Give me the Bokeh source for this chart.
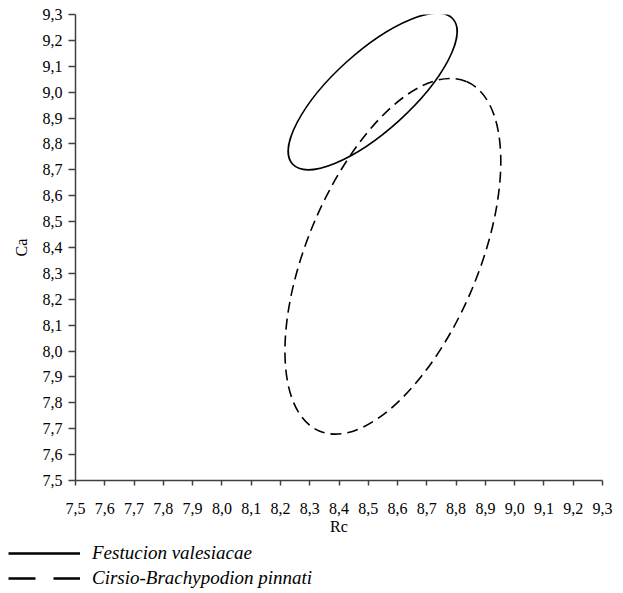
from bokeh.plotting import figure
from bokeh.layouts import column
from bokeh.models import Range1d, FixedTicker, Legend, LegendItem, ColumnDataSource
from bokeh.embed import file_html
from bokeh.resources import INLINE

# Data: ellipse parameters (centre, full width/height in data units, rotation in radians)
groups = ["Festucion valesiacae", "Cirsio-Brachypodion pinnati"]
center_rc = [8.515, 8.584]
center_ca = [9.003, 8.366]
ell_width = [0.739, 1.295]
ell_height = [0.304, 0.662]
ell_angle = [0.7365, 1.172]

tick_values = [7.5, 7.6, 7.7, 7.8, 7.9, 8.0, 8.1, 8.2, 8.3, 8.4, 8.5, 8.6, 8.7, 8.8, 8.9, 9.0, 9.1, 9.2, 9.3]
tick_labels = ["7,5", "7,6", "7,7", "7,8", "7,9", "8,0", "8,1", "8,2", "8,3", "8,4", "8,5",
               "8,6", "8,7", "8,8", "8,9", "9,0", "9,1", "9,2", "9,3"]

FONT = "'Liberation Serif', serif"
NAN = float("nan")

p = figure(width=623, height=537, output_backend="svg", toolbar_location=None,
           x_range=Range1d(7.5, 9.3), y_range=Range1d(7.5, 9.3),
           min_border_left=75, min_border_right=21, min_border_top=14, min_border_bottom=55)
p.outline_line_color = None
p.xgrid.visible = False
p.ygrid.visible = False

overrides = {v: l for v, l in zip(tick_values, tick_labels)}
for ax in (p.xaxis[0], p.yaxis[0]):
    ax.ticker = FixedTicker(ticks=tick_values)
    ax.major_label_overrides = overrides
    ax.minor_tick_line_color = None
    ax.axis_line_color = "#404040"
    ax.axis_line_width = 1.5
    ax.major_tick_line_color = "#404040"
    ax.major_tick_line_width = 1.5
    ax.major_tick_in = 0
    ax.major_label_text_font = FONT
    ax.major_label_text_font_size = "16px"
    ax.major_label_text_color = "black"
    ax.axis_label_text_font = FONT
    ax.axis_label_text_font_size = "16px"
    ax.axis_label_text_font_style = "normal"
    ax.axis_label_text_color = "black"

p.xaxis.axis_label = "Rc"
p.yaxis.axis_label = "Ca"
p.xaxis.major_tick_out = 5
p.yaxis.major_tick_out = 7
p.xaxis.major_label_standoff = 17
p.yaxis.major_label_standoff = 6
p.xaxis.axis_label_standoff = 1
p.yaxis.axis_label_standoff = 10

src_s = ColumnDataSource(dict(x=[center_rc[0]], y=[center_ca[0]], w=[ell_width[0]],
                              h=[ell_height[0]], a=[ell_angle[0]]))
src_d = ColumnDataSource(dict(x=[center_rc[1]], y=[center_ca[1]], w=[ell_width[1]],
                              h=[ell_height[1]], a=[ell_angle[1]]))
p.ellipse(x="x", y="y", width="w", height="h", angle="a", source=src_s,
          fill_color=None, line_color="black", line_width=1.6)
p.ellipse(x="x", y="y", width="w", height="h", angle="a", source=src_d,
          fill_color=None, line_color="black", line_width=1.6, line_dash="11 6")

# separate strip holding the legend below the chart
lg = figure(width=623, height=56, output_backend="svg", toolbar_location=None,
            x_range=Range1d(0, 1), y_range=Range1d(0, 1),
            x_axis_type=None, y_axis_type=None,
            min_border_left=0, min_border_right=0, min_border_top=0, min_border_bottom=0)
lg.frame_align = False
lg.outline_line_color = None
lg.xgrid.visible = False
lg.ygrid.visible = False
leg_s = lg.line(x=[NAN], y=[NAN], line_color="black", line_width=2.5)
leg_d = lg.line(x=[NAN], y=[NAN], line_color="black", line_width=2.5, line_dash="27 18")

legend = Legend(items=[LegendItem(label=groups[0], renderers=[leg_s]),
                       LegendItem(label=groups[1], renderers=[leg_d])],
                location=(8, 4), padding=0, spacing=3, margin=0,
                glyph_width=72, glyph_height=20, label_height=20, label_standoff=12,
                label_text_font=FONT, label_text_font_style="italic",
                label_text_font_size="19px", label_text_color="black",
                border_line_color=None, background_fill_alpha=0)
lg.add_layout(legend, "center")

open("out.html", "w").write(file_html(column(p, lg, spacing=0), INLINE))
